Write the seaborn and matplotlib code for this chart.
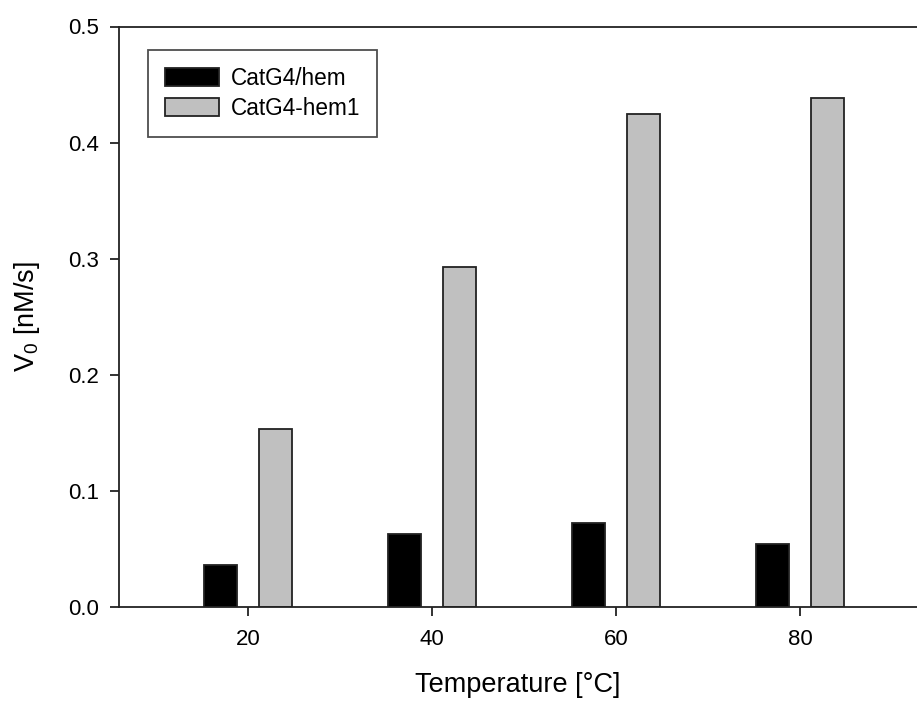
import matplotlib
matplotlib.use("Agg")
import matplotlib.pyplot as plt
import seaborn as sns
import pandas as pd
from matplotlib.patches import Patch

temperatures = [20, 40, 60, 80]
series_names = ["CatG4/hem", "CatG4-hem1"]
catg4_hem = [0.0365, 0.0627, 0.0722, 0.0543]
catg4_hem1 = [0.153, 0.293, 0.425, 0.438]
colors = ["#000000", "#c0c0c0"]

df = pd.DataFrame({
    "Temperature": [str(t) for t in temperatures] * 2,
    "series": [series_names[0]] * 4 + [series_names[1]] * 4,
    "V0": catg4_hem + catg4_hem1,
})

sns.set_style("ticks")
plt.rcParams["font.family"] = ["Liberation Sans", "DejaVu Sans"]
plt.rcParams["mathtext.fontset"] = "custom"
plt.rcParams["mathtext.rm"] = "Liberation Sans"
plt.rcParams["mathtext.it"] = "Liberation Sans"
plt.rcParams["text.color"] = "black"
plt.rcParams["axes.labelcolor"] = "black"

W, H = 917, 702
fig = plt.figure(figsize=(W / 100, H / 100), dpi=100)
ax = fig.add_axes([119 / W, (H - 607) / H, (917 - 119) / W, (607 - 26.5) / H])

sns.barplot(data=df, x="Temperature", y="V0", hue="series",
            order=[str(t) for t in temperatures], hue_order=series_names,
            palette=colors, width=0.6, gap=0.4, edgecolor="#222222",
            linewidth=1.3, saturation=1, legend=False, ax=ax)

ax.set_ylim(0, 0.5)
ax.set_xlim(-0.701, 3.636)
ax.set_yticks([0.0, 0.1, 0.2, 0.3, 0.4, 0.5])
ax.set_yticklabels(["0.0", "0.1", "0.2", "0.3", "0.4", "0.5"])
ax.spines["right"].set_visible(False)
for s in ["left", "bottom", "top"]:
    ax.spines[s].set_linewidth(1.3)
    ax.spines[s].set_color("#222222")
ax.tick_params(axis="both", direction="out", length=6.5, width=1.3,
               colors="#222222", labelsize=16, labelcolor="black")
ax.tick_params(axis="x", pad=9)
ax.tick_params(axis="y", pad=8)

ax.set_xlabel("Temperature [°C]", fontsize=19.5, labelpad=16, color="black")
ax.set_ylabel("V$_0$ [nM/s]", fontsize=19.5, color="black")
ax.yaxis.set_label_coords(-0.097, 0.5)

handles = [Patch(facecolor=colors[0], edgecolor="#222222", linewidth=1.3),
           Patch(facecolor=colors[1], edgecolor="#222222", linewidth=1.3)]
leg = ax.legend(handles, series_names, loc="upper left",
                bbox_to_anchor=(0.0363, 0.9595), borderaxespad=0,
                fontsize=16.3, frameon=True, fancybox=False,
                edgecolor="#222222", handlelength=2.4, handleheight=0.85,
                handletextpad=0.5, labelspacing=0.3, borderpad=0.75,
                labelcolor="black")
leg.get_frame().set_linewidth(1.3)

fig.savefig("out.png", dpi=100)
